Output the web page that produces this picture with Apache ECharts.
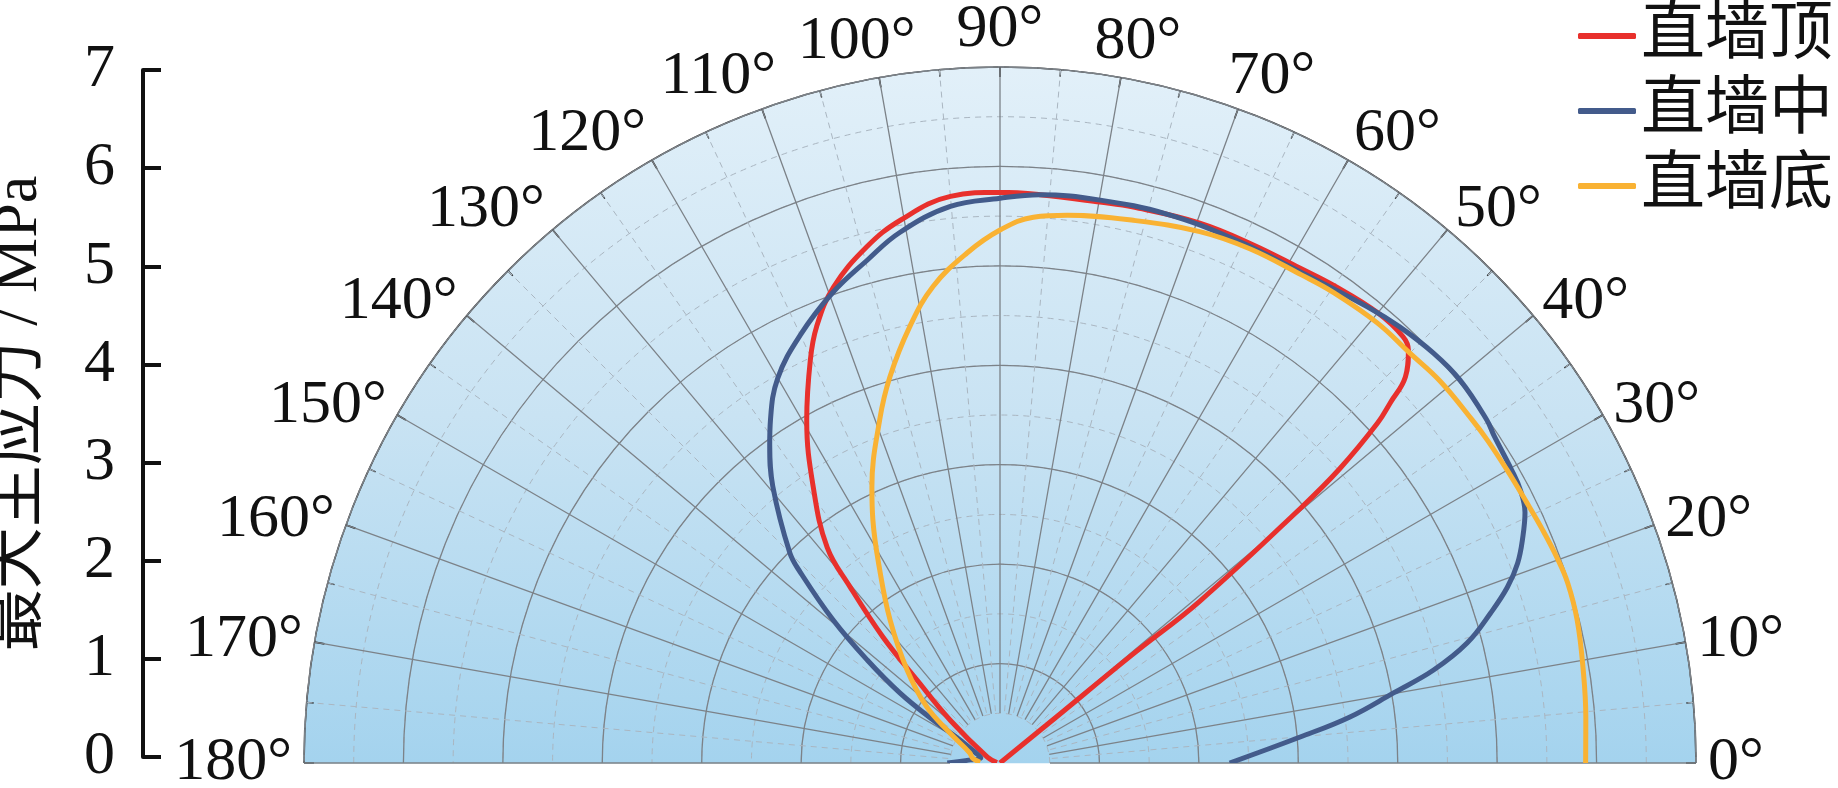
<!DOCTYPE html>
<html><head><meta charset="utf-8">
<script src="https://cdn.jsdelivr.net/npm/echarts@6/dist/echarts.min.js"></script>
<style>html,body{margin:0;padding:0;background:#fff}#c{width:1838px;height:788px}</style>
</head><body><div id="c"></div>
<script>
// ---- data ----
const seriesNames = ['直墙顶', '直墙中', '直墙底'];
const seriesColors = ['#e8302c', '#435b8b', '#f9b233'];
const radiusTicks = [0, 1, 2, 3, 4, 5, 6, 7];
const angleTicks = [0, 10, 20, 30, 40, 50, 60, 70, 80, 90, 100, 110, 120, 130, 140, 150, 160, 170, 180];

// 直墙顶 (top of straight wall): angle (deg) / max principal stress (MPa)
const topAngle  = [39, 39.2, 39.3, 39.0, 40.3, 40.9, 42.0, 42.7, 43.6, 45.3, 46.6, 50.0, 55.0, 58.8, 64.0, 69.7, 76.5, 79.9, 86.0, 90.0, 95.0, 100.4, 104.5, 109.3, 112.8, 115.2, 119.4, 124.1, 128.7, 130.4, 132.9, 135.0, 139.3, 155.0, 170.0];
const topStress = [0.0, 0.6, 1.74, 2.58, 3.97, 4.52, 5.11, 5.34, 5.63, 5.84, 5.90, 5.91, 5.86, 5.82, 5.80, 5.79, 5.75, 5.73, 5.73, 5.74, 5.72, 5.55, 5.36, 5.07, 4.76, 4.48, 3.96, 3.35, 2.78, 2.33, 1.73, 1.18, 0.66, 0.14, 0.03];

// 直墙中 (middle of straight wall)
const midAngle  = [0, 4.95, 7.5, 10.1, 12.1, 14.4, 17.0, 19.1, 21.1, 23.4, 25.5, 27.7, 29.8, 33.5, 35.2, 39.8, 43.4, 47.5, 51.2, 58.5, 65.9, 73.1, 79.9, 86.0, 90.0, 95.1, 100.7, 104.8, 109.6, 115.0, 120.0, 123.8, 125.9, 129.4, 135.0, 136.3, 139.4, 142.2, 145.0, 147.3, 150.0, 157.0, 165.0, 174.0, 180.0];
const midStress = [2.31, 3.03, 3.55, 4.02, 4.46, 4.85, 5.16, 5.40, 5.58, 5.73, 5.85, 5.91, 5.93, 5.96, 5.99, 6.02, 6.00, 5.95, 5.89, 5.79, 5.77, 5.77, 5.75, 5.73, 5.68, 5.62, 5.43, 5.23, 5.02, 4.75, 4.47, 4.15, 3.95, 3.60, 2.99, 2.78, 2.21, 1.69, 1.23, 0.80, 0.46, 0.27, 0.20, 0.30, 0.53];

// 直墙底 (bottom of straight wall)
const botAngle  = [0, 4.5, 9.1, 13.9, 17.6, 20.3, 23.2, 26.3, 30.0, 33.5, 36.1, 41.0, 45.0, 49.4, 54.7, 58.3, 64.1, 69.4, 76.2, 83.0, 86.5, 90.0, 93.7, 98.0, 101.7, 105.9, 109.3, 114.9, 117.6, 121.9, 127.6, 135.0, 142.5, 149.0, 161.6, 170.0, 178.0];
const botStress = [5.89, 5.91, 5.94, 5.98, 5.99, 5.97, 5.94, 5.91, 5.89, 5.88, 5.87, 5.86, 5.83, 5.83, 5.80, 5.77, 5.75, 5.71, 5.62, 5.55, 5.50, 5.36, 5.14, 4.84, 4.48, 4.04, 3.66, 3.06, 2.76, 2.29, 1.81, 1.32, 0.93, 0.59, 0.32, 0.28, 0.20];

// ---- layout ----
const CX = 1000, CY = 763, R = 696, R_INNER_GRID = 50, LABEL_GAP = 12;
const serif = "'Liberation Serif', 'Times New Roman', serif";
const mixed = "'Liberation Serif', 'Noto Sans CJK SC', serif";
const LABEL_SIZE = 62;
const rMax = radiusTicks[radiusTicks.length - 1];
const pxPerUnit = R / rMax;

const zip = (a, r) => a.map((v, i) => [r[i], v]);

// angle labels: placed just outside the rim, aligned by direction and measured size
const ctx = document.createElement('canvas').getContext('2d');
ctx.font = LABEL_SIZE + 'px ' + serif;
const angleLabelData = angleTicks.map(a => {
  const text = a + '°';
  const w = ctx.measureText(text).width, h = 50;
  const t = a * Math.PI / 180, c = Math.cos(t), s = Math.sin(t);
  const kx = Math.max(-1, Math.min(1, c / 0.5));
  const x = (R + LABEL_GAP) * c + kx * w / 2;
  const y = (R + LABEL_GAP) * s + Math.pow(s, 3) * h / 2;
  return {name: text, value: [Math.hypot(x, y) / pxPerUnit, Math.atan2(y, x) * 180 / Math.PI]};
});

const chart = echarts.init(document.getElementById('c'), null, {renderer: 'canvas'});
// background: gradient that ends exactly at the baseline (transparent below it)
const edge = R / (R + 1);
const bg = new echarts.graphic.LinearGradient(0, CY - R, 0, CY + 1, [
  {offset: 0, color: '#e2f0f9'},
  {offset: 0.5, color: '#c9e3f3'},
  {offset: edge, color: '#a4d3ee'},
  {offset: 1, color: 'rgba(255,255,255,0)'}
], true);

const gridSolid = {color: '#7c8288', width: 1.3};
const gridDash = {color: '#aab6c1', width: 1, type: [6, 5]};
const halfAngle = {type: 'value', min: 0, max: 180, startAngle: 0, endAngle: 180, clockwise: false};

const lineSeries = [[topAngle, topStress], [midAngle, midStress], [botAngle, botStress]].map((d, i) => ({
  name: seriesNames[i],
  type: 'line',
  coordinateSystem: 'polar',
  polarIndex: 0,
  data: zip(d[0], d[1]),
  showSymbol: false,
  symbol: 'none',
  smooth: 0.4,
  lineStyle: {color: seriesColors[i], width: 5},
  itemStyle: {color: seriesColors[i]},
  z: 5 + i
}));

chart.setOption({
  animation: false,
  backgroundColor: '#fff',
  color: seriesColors,
  legend: {
    data: seriesNames,
    orient: 'vertical',
    right: 0,
    top: -4,
    icon: 'roundRect',
    itemWidth: 58,
    itemHeight: 6,
    itemGap: 5,
    textStyle: {fontSize: 64, fontFamily: mixed, color: '#111', lineHeight: 70}
  },
  grid: {left: 141, top: CY - R + 3, height: R - 3, width: 2},
  xAxis: {type: 'value', show: false, min: 0, max: 1},
  yAxis: {
    type: 'value',
    min: radiusTicks[0], max: rMax, interval: 1,
    axisLine: {show: true, lineStyle: {color: '#111', width: 4}},
    axisTick: {show: true, inside: true, length: 18, lineStyle: {color: '#111', width: 4}},
    axisLabel: {margin: 28, fontSize: LABEL_SIZE, fontFamily: serif, color: '#111'},
    splitLine: {show: false},
    name: '最大主应力 / MPa',
    nameLocation: 'middle',
    nameRotate: 90,
    nameGap: 92,
    nameTextStyle: {fontSize: 62, fontFamily: mixed, color: '#111'}
  },
  polar: [
    {center: [CX, CY], radius: [0, R]},
    {center: [CX, CY], radius: [R_INNER_GRID, R]},
    {center: [CX, CY], radius: [0, R]}
  ],
  angleAxis: [
    Object.assign({}, halfAngle, {
      polarIndex: 0, interval: 180, z: 0,
      axisLine: {show: true, lineStyle: {color: '#2a2a2a', width: 1.6}},
      axisTick: {show: false}, axisLabel: {show: false},
      splitLine: {show: false},
      splitArea: {show: true, areaStyle: {color: [bg]}}
    }),
    Object.assign({}, halfAngle, {
      polarIndex: 1, interval: 10, z: 2,
      axisLine: {show: false},
      axisTick: {show: true, inside: true, length: 10, lineStyle: {color: '#222', width: 1.6}},
      minorTick: {show: true, splitNumber: 2, length: 7, lineStyle: {color: '#222', width: 1.4}},
      axisLabel: {show: false},
      splitLine: {show: true, lineStyle: gridSolid},
      minorSplitLine: {show: true, lineStyle: gridDash}
    }),
    Object.assign({}, halfAngle, {
      polarIndex: 2, interval: 180, z: 0,
      axisLine: {show: false}, axisTick: {show: false}, axisLabel: {show: false},
      splitLine: {show: false}, splitArea: {show: false}
    })
  ],
  radiusAxis: [
    {
      polarIndex: 0, type: 'value', min: 0, max: rMax, interval: 1, z: 2,
      axisLine: {show: false}, axisTick: {show: false}, axisLabel: {show: false},
      splitLine: {show: true, lineStyle: gridSolid}
    },
    {
      polarIndex: 1, type: 'value', min: 0, max: rMax, show: false,
      axisLine: {show: false}, axisTick: {show: false}, axisLabel: {show: false}, splitLine: {show: false}
    },
    {
      polarIndex: 2, type: 'value', min: 0, max: rMax, interval: 0.5, z: 1,
      axisLine: {show: false}, axisTick: {show: false}, axisLabel: {show: false},
      splitLine: {show: true, lineStyle: gridDash}
    }
  ],
  series: lineSeries.concat([{
    name: 'angleLabels',
    type: 'scatter',
    coordinateSystem: 'polar',
    polarIndex: 0,
    clip: false,
    silent: true,
    symbol: 'circle',
    symbolSize: 0,
    itemStyle: {color: '#111'},
    data: angleLabelData,
    label: {
      show: true, position: 'inside',
      formatter: '{b}',
      fontSize: LABEL_SIZE, fontFamily: serif, color: '#111',
      textBorderWidth: 0, opacity: 1
    },
    z: 10
  }])
});
</script></body></html>
